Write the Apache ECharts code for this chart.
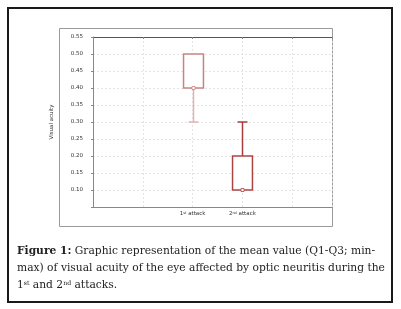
<!DOCTYPE html>
<html>
<head>
<meta charset="utf-8">
<script src="https://cdn.jsdelivr.net/npm/echarts@6/dist/echarts.min.js"></script>
<style>
  html, body { margin: 0; padding: 0; background: #fff; }
  #chart { width: 401px; height: 309px; }
</style>
</head>
<body>
<div id="chart"></div>
<script>
// data
var categories = ['1st', '2nd'];
var catPos = [2, 3];
var minVals = [0.30, 0.10];
var q1Vals = [0.40, 0.10];
var medVals = [0.40, 0.10];
var q3Vals = [0.50, 0.20];
var maxVals = [0.50, 0.30];
var boxColors = ['#c98282', '#ad4444'];
var whiskerColors = ['#e2b3b3', '#a83c3c'];

var rows = [];
for (var i = 0; i < catPos.length; i++) {
    rows.push([catPos[i], minVals[i], q1Vals[i], medVals[i], q3Vals[i], maxVals[i]]);
}

function renderBox(params, api) {
    var i = params.dataIndex;
    var x = api.value(0);
    var pMin = api.coord([x, api.value(1)]);
    var pQ1 = api.coord([x, api.value(2)]);
    var pMed = api.coord([x, api.value(3)]);
    var pQ3 = api.coord([x, api.value(4)]);
    var pMax = api.coord([x, api.value(5)]);
    var half = api.size([1, 0])[0] * 0.2;
    var cap = half / 2;
    var cx = Math.round(pMed[0]) + 0.5;
    var kids = [];
    var wStyle = { stroke: whiskerColors[i], lineWidth: 1.5 };
    if (pMin[1] - pQ1[1] > 1) {
        kids.push({ type: 'line', shape: { x1: cx, y1: pQ1[1], x2: cx, y2: pMin[1] }, style: wStyle });
        kids.push({ type: 'line', shape: { x1: cx - cap, y1: pMin[1], x2: cx + cap, y2: pMin[1] }, style: wStyle });
    }
    if (pQ3[1] - pMax[1] > 1) {
        kids.push({ type: 'line', shape: { x1: cx, y1: pQ3[1], x2: cx, y2: pMax[1] }, style: wStyle });
        kids.push({ type: 'line', shape: { x1: cx - cap, y1: pMax[1], x2: cx + cap, y2: pMax[1] }, style: wStyle });
    }
    kids.push({
        type: 'rect',
        shape: { x: cx - half, y: pQ3[1], width: half * 2, height: pQ1[1] - pQ3[1] },
        style: { fill: '#fff', stroke: boxColors[i], lineWidth: 1.5 }
    });
    kids.push({
        type: 'rect',
        shape: { x: cx - 1.5, y: pMed[1] - 1.5, width: 3, height: 3 },
        style: { fill: '#fff', stroke: boxColors[i], lineWidth: 0.8 }
    });
    return { type: 'group', children: kids };
}

var chart = echarts.init(document.getElementById('chart'));
var tickFont = { fontSize: 5.5, color: '#333', fontFamily: 'DejaVu Sans' };
var capFont = '10.7px "DejaVu Serif"';

var option = {
    animation: false,
    grid: { left: 93, top: 37, right: 69, bottom: 102 },
    xAxis: [{
        type: 'value', min: 0, max: 4.8, interval: 1,
        axisLine: { lineStyle: { color: '#888', width: 1 } },
        axisTick: { show: false },
        splitLine: { show: true, lineStyle: { color: '#ddd', type: [2, 2], width: 0.8 } },
        axisLabel: {
            margin: 4,
            formatter: function (v) {
                var k = catPos.indexOf(v);
                if (k < 0) return '';
                var n = categories[k];
                return '{b|' + n.charAt(0) + '}{s|' + n.slice(1) + '}{b| attack}';
            },
            rich: {
                b: { fontSize: 5.5, color: '#333', fontFamily: 'DejaVu Sans' },
                s: { fontSize: 3.5, color: '#333', fontFamily: 'DejaVu Sans', padding: [0, 0, 2, 0] }
            }
        }
    }, {
        type: 'value', position: 'top', min: 0, max: 4.8, interval: 1,
        axisLine: { show: true, lineStyle: { color: '#555', width: 1.2 } },
        axisTick: { show: true, inside: true, length: 2, lineStyle: { color: '#888' } },
        axisLabel: { show: false },
        splitLine: { show: false }
    }],
    yAxis: {
        type: 'value', min: 0.05, max: 0.55, interval: 0.05,
        name: 'Visual acuity', nameLocation: 'middle', nameGap: 38, nameRotate: 90,
        nameTextStyle: { fontSize: 5.5, color: '#333', fontFamily: 'DejaVu Sans' },
        axisLine: { show: true, lineStyle: { color: '#888', width: 1 } },
        axisTick: { show: true, length: 2, lineStyle: { color: '#888' } },
        splitLine: { show: true, lineStyle: { color: '#ddd', type: [2, 2], width: 0.8 } },
        axisLabel: Object.assign({
            margin: 10,
            formatter: function (v) {
                if (v < 0.07) return '';
                return v.toFixed(2);
            }
        }, tickFont)
    },
    graphic: [
        { type: 'rect', shape: { x: 8, y: 8, width: 384, height: 294 }, style: { fill: 'none', stroke: '#1a1a1a', lineWidth: 2 } },
        { type: 'rect', shape: { x: 59.5, y: 28.5, width: 273, height: 198 }, style: { fill: 'none', stroke: '#9a9a9a', lineWidth: 1 } },
        {
            type: 'text', left: 17, top: 246,
            style: {
                text: '{fb|Figure 1:} Graphic representation of the mean value (Q1-Q3; min-',
                font: capFont, fill: '#222',
                rich: { fb: { fontWeight: 'bold', fontSize: 10.7, fontFamily: 'DejaVu Serif', color: '#222' } }
            }
        },
        {
            type: 'text', left: 17, top: 263,
            style: { text: 'max) of visual acuity of the eye affected by optic neuritis during the', font: capFont, fill: '#222' }
        },
        {
            type: 'text', left: 17, top: 280,
            style: {
                text: '1{sp|st} and 2{sp|nd} attacks.',
                font: capFont, fill: '#222',
                rich: { sp: { fontSize: 6.2, fontFamily: 'DejaVu Serif', color: '#222', padding: [0, 0, 5, 0] } }
            }
        }
    ],
    series: [{
        type: 'custom',
        renderItem: renderBox,
        encode: { x: 0, y: [1, 2, 3, 4, 5] },
        data: rows,
        z: 5
    }]
};
chart.setOption(option);
</script>
</body>
</html>
